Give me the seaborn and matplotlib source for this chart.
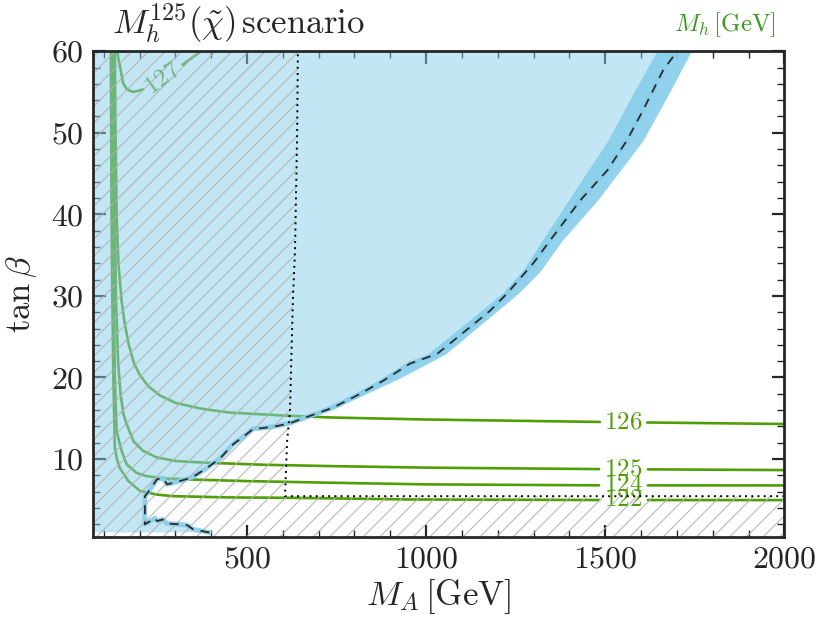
import numpy as np
import matplotlib
matplotlib.use("Agg")
import matplotlib.pyplot as plt
from matplotlib.ticker import FuncFormatter
import seaborn as sns

# axis ranges
ma_lim = (70, 2000)
tb_lim = (0.5, 60)

obs_ma = [395, 377, 349, 333, 313, 277, 265, 249, 243, 215,
          215, 225, 249, 265, 277, 313, 349, 388, 425, 461,
          500, 517, 545, 584, 620, 676, 740, 816, 880, 955,
          1031, 1101, 1179, 1226, 1299, 1346, 1430, 1506, 1561, 1606,
          1662, 1701]
obs_tb = [1.0, 1.15, 1.4, 1.9, 2.0, 2.1, 2.6, 2.4, 2.75, 2.0,
          5.45, 6.0, 7.54, 7.67, 6.9, 7.3, 7.8, 8.9, 10.1, 11.8,
          13.1, 13.7, 13.8, 14.05, 14.4, 15.3, 16.3, 18.0, 19.6, 21.7,
          22.9, 25.4, 28.2, 30.3, 34.0, 36.8, 41.7, 45.4, 49.1, 52.8,
          57.7, 60.0]

# uncertainty band around the boundary
band_tb = [13.8, 15.3, 17.5, 20.0, 22.9, 25.4, 30.3, 33.0, 36.8, 41.7, 45.4, 49.1, 55.0, 60.0]
band_in = [535, 665, 775, 885, 1005, 1075, 1212, 1268, 1324, 1397, 1452, 1508, 1580, 1644]
band_out = [560, 692, 808, 930, 1055, 1123, 1257, 1318, 1380, 1478, 1542, 1606, 1680, 1740]

# dotted boundary of the hatched region
dot_ma = [2000, 606, 612, 620, 628, 634, 640, 642]
dot_tb = [5.45, 5.45, 12.2, 15.9, 29.4, 35.5, 50.0, 60.0]

# Mh contours
mh_levels = ["122", "124", "125", "126", "127"]
mh_ma = {
    "122": [120, 121, 122, 124, 127, 131, 137, 145, 169, 201, 248, 294, 450, 620, 955, 1486, 2000],
    "124": [124, 125, 126, 128, 131, 136, 150, 164, 192, 220, 276, 341, 500, 732, 1000, 1486, 2000],
    "125": [128, 129, 131, 134, 140, 147, 155, 164, 183, 210, 248, 303, 387, 550, 732, 1000, 1486, 2000],
    "126": [131, 133, 136, 141, 150, 158, 170, 185, 201, 225, 257, 300, 369, 450, 620, 732, 1000, 1486, 2000],
    "127": [138, 141, 146, 154, 165, 182, 210, 265, 319, 369],
}
mh_tb = {
    "122": [60, 50, 40, 30, 20, 11.4, 10.0, 8.9, 7.3, 6.1, 5.65, 5.45, 5.3, 5.25, 5.05, 4.98, 4.97],
    "124": [60, 50, 40, 30, 20, 13.4, 11.0, 9.35, 8.3, 7.9, 7.6, 7.5, 7.3, 7.1, 6.9, 6.78, 6.77],
    "125": [60, 50, 40, 30, 22, 18, 15.5, 14.3, 12.2, 11.0, 10.2, 9.75, 9.55, 9.3, 9.14, 8.95, 8.77, 8.65],
    "126": [60, 50, 40, 34, 29.4, 26.8, 24.0, 21.7, 20.3, 18.9, 17.8, 16.9, 16.2, 15.7, 15.3, 15.1, 14.85, 14.55, 14.3],
    "127": [60, 59, 58, 56.1, 55.3, 55.0, 55.3, 56.7, 58.3, 59.9],
}
label_ma = {"122": 1551, "124": 1551, "125": 1551, "126": 1551, "127": 265}
label_gap = {"122": 68, "124": 68, "125": 68, "126": 66, "127": 55}
label_rot = {"122": 0, "124": 0, "125": 0, "126": 0, "127": 36}

green = "#4f9e05"
blue = "#87ceeb"

sns.set_style("ticks")
plt.rcParams["font.family"] = "serif"
plt.rcParams["font.serif"] = ["cmr10", "DejaVu Serif"]
plt.rcParams["mathtext.fontset"] = "cm"
plt.rcParams["hatch.linewidth"] = 0.7
plt.rcParams["hatch.color"] = "#b0b0b0"

fig = plt.figure(figsize=(8.3, 6.32), dpi=100)
ax = fig.add_axes([0.112, 0.151, 0.833, 0.768])

# Mh contour lines with a gap where the label sits
for lev in mh_levels:
    xs = np.array(mh_ma[lev], dtype=float)
    ys = np.array(mh_tb[lev], dtype=float)
    xc, w = label_ma[lev], label_gap[lev]
    left = xs < xc - w
    right = xs > xc + w
    x1 = np.append(xs[left], xc - w)
    y1 = np.append(ys[left], np.interp(xc - w, xs, ys))
    x2 = np.insert(xs[right], 0, xc + w)
    y2 = np.insert(ys[right], 0, np.interp(xc + w, xs, ys))
    for sx, sy in [(x1, y1), (x2, y2)]:
        sns.lineplot(x=sx, y=sy, sort=False, estimator=None, color=green,
                     lw=1.9, ax=ax, zorder=1)
    ax.text(xc, np.interp(xc, xs, ys), r"$\mathrm{%s}$" % lev, color=green,
            fontsize=18, ha="center", va="center", rotation=label_rot[lev],
            zorder=1)

# excluded region (light) and band (dark)
ax.fill([ma_lim[0]] + obs_ma + [ma_lim[0]], [1.0] + obs_tb + [60.0],
        color=blue, alpha=0.5, lw=0, zorder=3)
ax.fill_betweenx(band_tb, band_in, band_out, color=blue, alpha=0.9,
                 lw=0, zorder=3.05)
sns.lineplot(x=obs_ma, y=obs_tb, sort=False, estimator=None, color=blue,
             lw=3.5, alpha=0.9, ax=ax, zorder=3.06)

# hatched region
hx = [ma_lim[0], ma_lim[0]] + dot_ma[::-1] + [ma_lim[1]]
hy = [tb_lim[0], 60.0] + dot_tb[::-1] + [tb_lim[0]]
ax.fill(hx, hy, facecolor="none", edgecolor="#b0b0b0", hatch="//", lw=0,
        zorder=3.1)

# boundary lines
sns.lineplot(x=obs_ma, y=obs_tb, sort=False, estimator=None, color="#2b2b2b",
             lw=1.3, ax=ax, zorder=3.3)
ax.lines[-1].set_dashes([5, 4])
sns.lineplot(x=dot_ma, y=dot_tb, sort=False, estimator=None, color="black",
             lw=1.4, ax=ax, zorder=3.3)
ax.lines[-1].set_linestyle((0, (1, 2.2)))

ax.set_xlim(*ma_lim)
ax.set_ylim(*tb_lim)
ax.set_xticks([500, 1000, 1500, 2000])
ax.set_xticks(np.arange(100, 2001, 100), minor=True)
ax.set_yticks([10, 20, 30, 40, 50, 60])
ax.set_yticks(np.arange(2, 61, 2), minor=True)
cm_fmt = FuncFormatter(lambda v, p: r"$\mathrm{%d}$" % v)
ax.xaxis.set_major_formatter(cm_fmt)
ax.yaxis.set_major_formatter(cm_fmt)
ax.tick_params(which="both", direction="in", top=True, right=True,
               labelsize=23, pad=7)
ax.tick_params(which="major", length=9, width=1.6)
ax.tick_params(which="minor", length=5, width=1.0)
for sp in ax.spines.values():
    sp.set_linewidth(2.0)
    sp.set_zorder(5)

ax.set_xlabel(r"$M_A\,[\mathrm{GeV}]$", fontsize=25, labelpad=2)
ax.set_ylabel(r"$\tan\beta$", fontsize=25, labelpad=8)
ax.text(0.028, 1.012, r"$M_h^{125}(\tilde{\chi})\,\mathrm{scenario}$",
        transform=ax.transAxes, fontsize=25, ha="left", va="bottom")
ax.text(0.988, 1.025, r"$M_h\,[\mathrm{GeV}]$", transform=ax.transAxes,
        fontsize=18, color="#3a9a22", ha="right", va="bottom")

fig.savefig("out.png", dpi=100)
